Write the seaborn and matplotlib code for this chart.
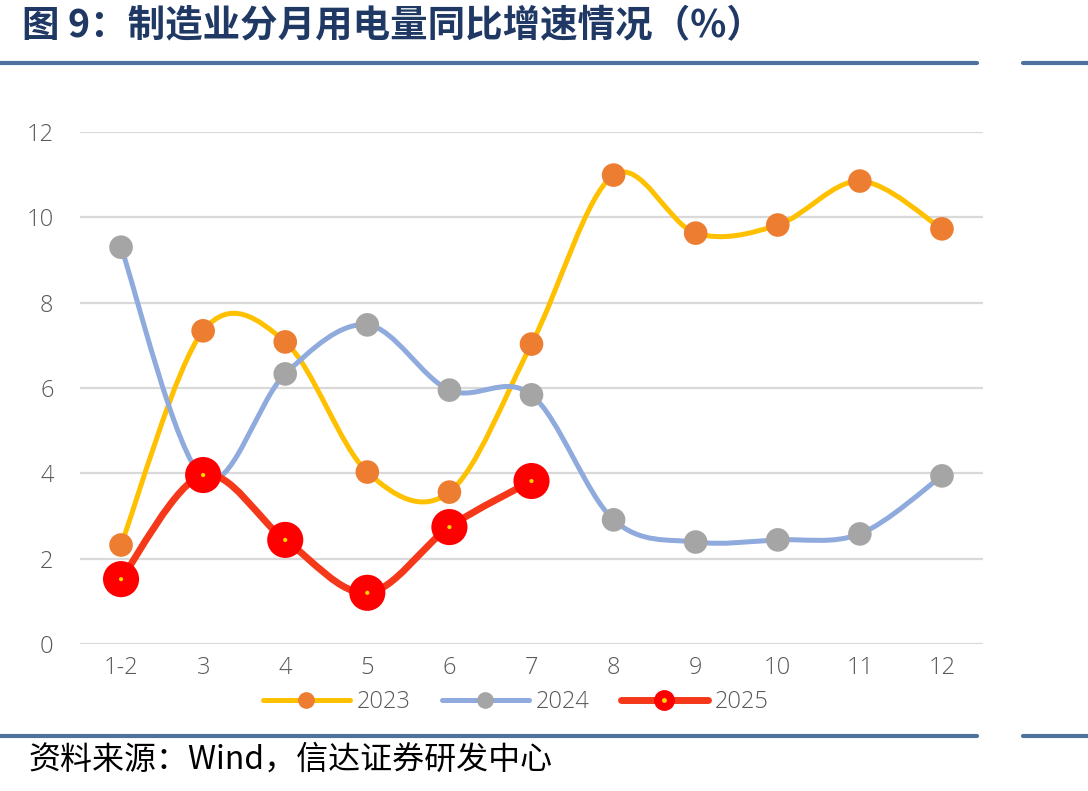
import numpy as np
import pandas as pd
import matplotlib
matplotlib.use("Agg")
import matplotlib.pyplot as plt
import seaborn as sns
from matplotlib.path import Path
from matplotlib.patches import PathPatch
from matplotlib.lines import Line2D
from matplotlib.legend_handler import HandlerTuple

# Data
MONTHS = ["1-2", "3", "4", "5", "6", "7", "8", "9", "10", "11", "12"]
Y2023 = [2.32, 7.34, 7.08, 4.03, 3.56, 7.03, 10.99, 9.63, 9.82, 10.85, 9.73]
Y2024 = [9.30, 3.90, 6.33, 7.48, 5.95, 5.84, 2.91, 2.39, 2.44, 2.58, 3.94]
Y2025 = [1.52, 3.96, 2.44, 1.20, 2.74, 3.82]

TITLE = "图 9：制造业分月用电量同比增速情况（%）"
SOURCE = "资料来源：Wind，信达证券研发中心"

# Styles: (line colour, line width, marker colour, marker size, legend marker size)
STYLES = {
    "2023": ("#FFC000", 3.6, "#ED7D31", 17, 11),
    "2024": ("#8FAADC", 3.6, "#A5A5A5", 17, 11),
    "2025": ("#F5381A", 5.0, "#FF0000", 26, 14),
}


def smooth_path(xs, ys):
    """Excel-style smoothed line: cubic Bezier segments through the data points."""
    n = len(xs)
    verts = [(xs[0], ys[0])]
    codes = [Path.MOVETO]
    for i in range(n - 1):
        a = i - 1 if i > 0 else i
        d = i + 2 if i + 2 < n else i + 1
        c1 = (xs[i] + (xs[i + 1] - xs[a]) / 6, ys[i] + (ys[i + 1] - ys[a]) / 6)
        c2 = (xs[i + 1] - (xs[d] - xs[i]) / 6, ys[i + 1] - (ys[d] - ys[i]) / 6)
        verts += [c1, c2, (xs[i + 1], ys[i + 1])]
        codes += [Path.CURVE4] * 3
    return Path(verts, codes)


def main():
    sns.set_theme(style="white")
    plt.rcParams["font.family"] = ["Noto Sans CJK SC", "DejaVu Sans"]

    frames = []
    for year, vals in (("2023", Y2023), ("2024", Y2024), ("2025", Y2025)):
        frames.append(pd.DataFrame({"x": np.arange(len(vals)), "y": vals, "year": year}))
    df = pd.concat(frames, ignore_index=True)

    fig = plt.figure(figsize=(10.88, 7.91), dpi=100)
    ax = fig.add_axes([80 / 1088, 1 - 644 / 791, 903 / 1088, 512 / 791])

    z = 3
    for year in ["2023", "2024", "2025"]:
        sub = df[df["year"] == year]
        lc, lw, mc, ms, _ = STYLES[year]
        patch = PathPatch(smooth_path(sub["x"].to_numpy(float), sub["y"].to_numpy(float)),
                          facecolor="none", edgecolor=lc, lw=lw, capstyle="round", zorder=z)
        ax.add_patch(patch)
        sns.scatterplot(data=sub, x="x", y="y", ax=ax, color=mc, s=ms ** 2,
                        edgecolor="none", linewidth=0, zorder=z + 1, legend=False)
        if year == "2025":
            sns.scatterplot(data=sub, x="x", y="y", ax=ax, color="#FFD700", s=9,
                            edgecolor="none", linewidth=0, zorder=z + 2, legend=False)
        z += 3

    tick_font = dict(family=["Open Sans", "DejaVu Sans"], weight="light", size=17)
    ax.set_xlim(-0.5, 10.5)
    ax.set_ylim(0, 12)
    ax.set_yticks(range(0, 13, 2))
    ax.set_yticklabels([str(v) for v in range(0, 13, 2)], fontdict=tick_font)
    ax.set_xticks(range(len(MONTHS)))
    ax.set_xticklabels(MONTHS, fontdict=tick_font)
    ax.set_xlabel("")
    ax.set_ylabel("")
    ax.grid(axis="y", color="#D9D9D9", lw=1.6)
    ax.grid(axis="x", visible=False)
    ax.set_axisbelow(True)
    for s in ax.spines.values():
        s.set_visible(False)
    ax.tick_params(axis="y", length=0, pad=19, labelcolor="#595959")
    ax.tick_params(axis="x", length=0, pad=9, labelcolor="#595959")

    # legend
    handles = []
    for year in ["2023", "2024", "2025"]:
        lc, lw, mc, ms, lms = STYLES[year]
        h = Line2D([], [], color=lc, lw=lw, marker="o", markersize=lms,
                   markerfacecolor=mc, markeredgecolor=mc, solid_capstyle="round")
        if year == "2025":
            dot = Line2D([], [], ls="none", marker="o", markersize=2.5,
                         markerfacecolor="#FFD700", markeredgecolor="#FFD700")
            h = (h, dot)
        handles.append(h)
    fig.legend(handles, ["2023", "2024", "2025"], loc="center",
               bbox_to_anchor=(0.474, 1 - 702 / 791), ncol=3, frameon=False,
               prop=tick_font, labelcolor="#595959", handlelength=3.7,
               handletextpad=0.3, columnspacing=1.3,
               handler_map={tuple: HandlerTuple(ndivide=1, pad=0)})

    # title and rules
    fig.text(22 / 1088, 1 - 26 / 791, TITLE, fontsize=27, fontweight="bold",
             color="#1F3864", ha="left", va="center")
    for yy in (1 - 63 / 791, 1 - 736 / 791):
        fig.add_artist(Line2D([0, 977 / 1088], [yy, yy], transform=fig.transFigure,
                              color="#4F719E", lw=3))
        fig.add_artist(Line2D([1023 / 1088, 1], [yy, yy], transform=fig.transFigure,
                              color="#4F719E", lw=3))
    fig.text(28 / 1088, 1 - 760 / 791, SOURCE, fontsize=23, fontweight="light",
             color="black", ha="left", va="center")

    fig.savefig("out.png", dpi=100)


if __name__ == "__main__":
    main()
